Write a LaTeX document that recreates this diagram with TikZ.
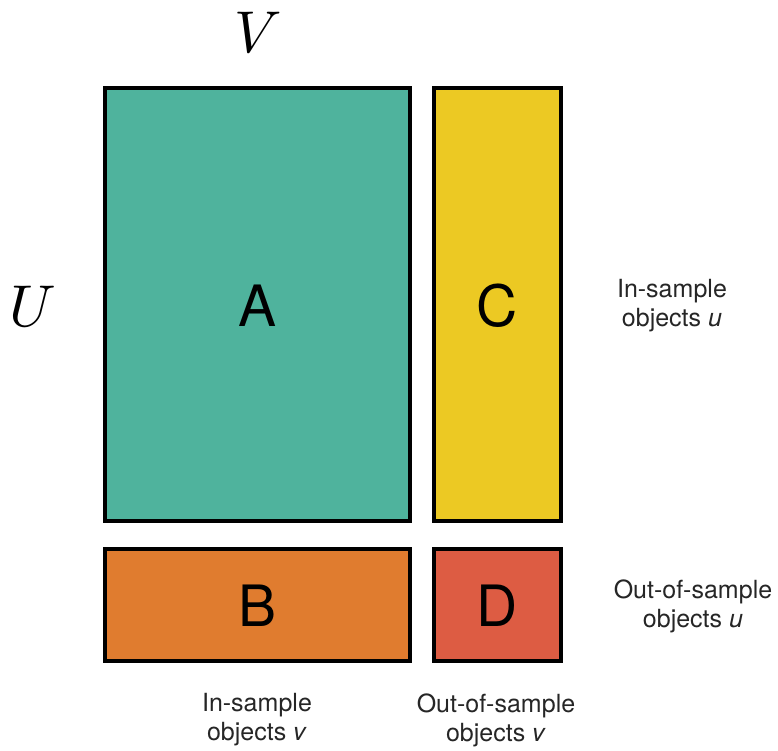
\documentclass[tikz,border=0pt]{standalone}
\usepackage{fontspec}
\setmainfont{TeX Gyre Heros}
\definecolor{cA}{RGB}{79,179,157}
\definecolor{cB}{RGB}{224,124,47}
\definecolor{cC}{RGB}{236,201,35}
\definecolor{cD}{RGB}{221,92,67}
\begin{document}
\begin{tikzpicture}[x=1pt,y=-1pt,
  blk/.style={draw=black,line width=4pt},
  big/.style={font=\fontsize{57}{57}\selectfont},
  mathlbl/.style={font=\fontsize{10}{12}\selectfont,scale=5.9},
  lbl/.style={font=\fontsize{25}{29}\selectfont,align=center,text=black!85}]
\useasboundingbox (0,0) rectangle (778,751);
\fill[white] (0,0) rectangle (778,751);
\draw[blk,fill=cA] (105,88) rectangle (410,521);
\draw[blk,fill=cC] (434,88) rectangle (561,521);
\draw[blk,fill=cB] (105,549) rectangle (410,661);
\draw[blk,fill=cD] (434,549) rectangle (561,661);
\node[big] (A) at (257.5,306) {A};
\node[big] (C) at (497.5,306) {C};
\node[big] (B) at (257.5,606) {B};
\node[big] (D) at (497.5,606) {D};
\node[mathlbl] (V) at (258,32) {$V$};
\node[mathlbl] (U) at (33,306) {$U$};
\node[lbl] (lu1) at (672,306) {In-sample\\objects \textit{u}};
\node[lbl] (lu2) at (693,606) {Out-of-sample\\objects \textit{u}};
\node[lbl] (lv1) at (257,720) {In-sample\\objects \textit{v}};
\node[lbl] (lv2) at (496,720) {Out-of-sample\\objects \textit{v}};
\end{tikzpicture}
\end{document}
